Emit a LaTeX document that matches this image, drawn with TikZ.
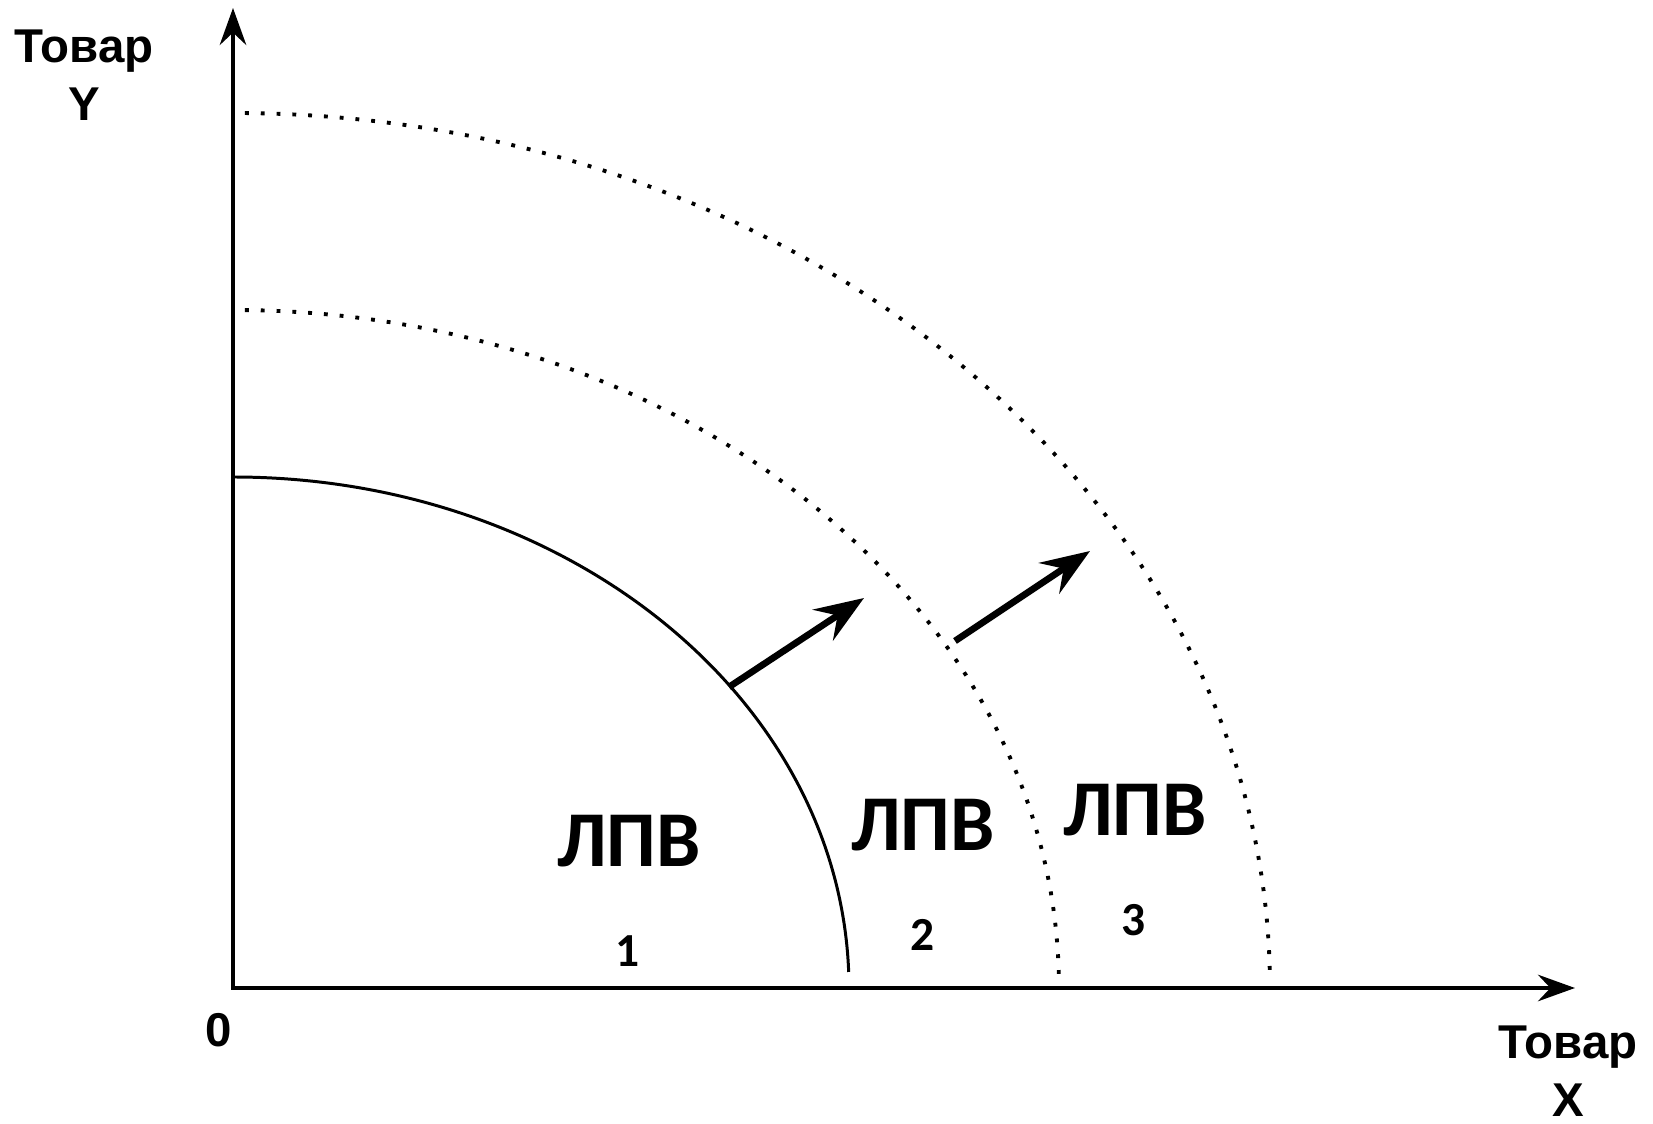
\documentclass[tikz,border=0pt]{standalone}
\usepackage{fontspec}
\setmainfont{Liberation Sans}
\newfontfamily\curvefont{Carlito}
\usetikzlibrary{arrows.meta}

\begin{document}
\begin{tikzpicture}[x=0.02cm, y=0.02cm,
  axis/.style={line width=2.8pt,
    {Stealth[length=21pt,width=15pt,inset=7pt]}-{Stealth[length=21pt,width=15pt,inset=7pt]}},
  ppf/.style={line width=1.7pt},
  shifted/.style={line width=2.2pt, dash pattern=on 2.2pt off 6.8pt, dash phase=2.2pt},
  shiftarrow/.style={line width=3.8pt, -{Stealth[length=28pt,width=21pt,inset=10pt]}},
  axlabel/.style={font=\fontsize{27}{33}\selectfont\bfseries, align=center, inner sep=1pt},
  ppflabel/.style={font=\curvefont\fontsize{45}{54}\selectfont\bfseries},
  numlabel/.style={font=\curvefont\fontsize{27}{32}\selectfont\bfseries}]

\useasboundingbox (-233,-135) rectangle (1420,988);

% Axes
\coordinate (O) at (0,0);
\coordinate (ytop) at (0,980);
\coordinate (xend) at (1342,0);
\draw[axis] (ytop) -- (O) -- (xend);

% Axis labels
\node[axlabel] (ylab) at (-149,913) {Товар\\Y};
\node[axlabel] (xlab) at (1335,-83) {Товар\\X};
\node[axlabel] (orig) at (-14,-42) {0};

% Frontiers
\draw[ppf] (0,511) arc[start angle=90, end angle=1.8, x radius=616, y radius=511];
\draw[shifted] (0,678) arc[start angle=90, end angle=0.7, x radius=826, y radius=678];
\draw[shifted] (0,875) arc[start angle=90, end angle=0.5, x radius=1037, y radius=875];

% Shift arrows
\coordinate (a1) at (496,301);
\coordinate (b1) at (631,390);
\coordinate (a2) at (722,347);
\coordinate (b2) at (857,437);
\draw[shiftarrow] (a1) -- (b1);
\draw[shiftarrow] (a2) -- (b2);

% Frontier labels
\node[ppflabel] (l1) at (396,147) {ЛПВ};
\node[ppflabel] (l2) at (690,163) {ЛПВ};
\node[ppflabel] (l3) at (902,178) {ЛПВ};
\node[numlabel] (n1) at (395,37) {1};
\node[numlabel] (n2) at (690,53) {2};
\node[numlabel] (n3) at (901,68) {3};

\end{tikzpicture}
\end{document}
